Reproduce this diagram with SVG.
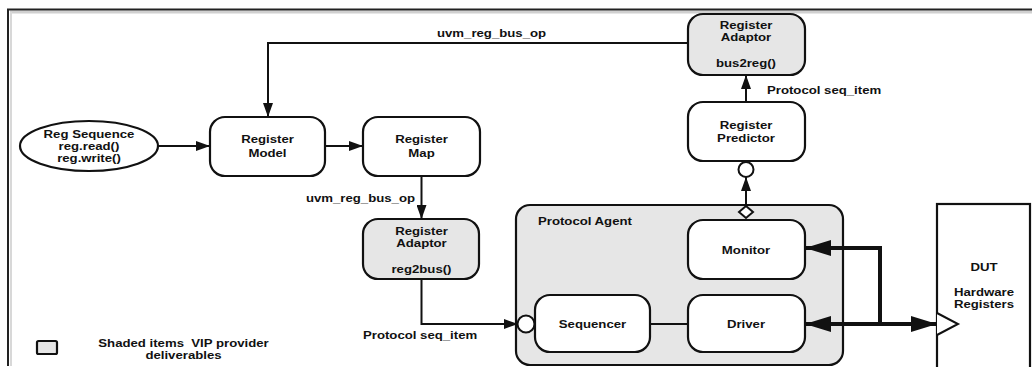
<svg xmlns="http://www.w3.org/2000/svg" width="1032" height="367" viewBox="0 0 1032 367">
<style>
.t{font-family:"Liberation Sans",Arial,Helvetica,sans-serif;font-weight:bold;font-size:11px;fill:#111}
.m{text-anchor:middle}
.e{text-anchor:end}
.box{fill:#fff;stroke:#111;stroke-width:2.2}
.shade{fill:#e6e6e6;stroke:#111;stroke-width:2.2}
.ln{fill:none;stroke:#111;stroke-width:2}
.bus{fill:none;stroke:#111;stroke-width:4}
</style>
<defs>
<marker id="ah" viewBox="0 0 14 10" refX="14" refY="5" markerWidth="14" markerHeight="10" markerUnits="userSpaceOnUse" orient="auto">
<path d="M0,0 L14,5 L0,10 Z" fill="#111"/>
</marker>
<marker id="ahb" viewBox="0 0 26 16" refX="26" refY="8" markerWidth="26" markerHeight="16" markerUnits="userSpaceOnUse" orient="auto">
<path d="M0,0 L26,8 L0,16 Z" fill="#111"/>
</marker>
</defs>
<rect width="1032" height="367" fill="#fff"/>
<g id="frame">
<path d="M10,12 H1032" stroke="#d0d0d0" stroke-width="3" fill="none"/>
<path d="M11,12 V366" stroke="#d8d8d8" stroke-width="2" fill="none"/>
<path d="M8,366 V9.5 H1032" stroke="#222" stroke-width="2" fill="none"/>
</g>
<g id="protocol-agent">
<rect class="shade" x="516" y="205" width="327" height="160" rx="14"/>
<text class="t" transform="translate(538,225) scale(1.2,1)">Protocol Agent</text>
</g>
<g id="connectors">
<path class="ln" d="M158,146 H210" marker-end="url(#ah)"/>
<path class="ln" d="M325,146 H363" marker-end="url(#ah)"/>
<path class="ln" d="M688,43 H268 V117" marker-end="url(#ah)"/>
<path class="ln" d="M421.5,176 V219" marker-end="url(#ah)"/>
<path class="ln" d="M421.5,279 V324 H518" marker-end="url(#ah)"/>
<path class="ln" d="M746,102 V75" marker-end="url(#ah)"/>
<path class="ln" d="M746,207 V177" marker-end="url(#ah)"/>
<path class="ln" d="M650,324 H688"/>
<path class="bus" d="M880,324 V248 H805" marker-end="url(#ahb)"/>
<path class="bus" d="M880,324 H805" marker-end="url(#ahb)"/>
<path class="bus" d="M878,324 H937" marker-end="url(#ahb)"/>
<circle cx="746" cy="169.5" r="7.5" fill="#fff" stroke="#111" stroke-width="2"/>
<path d="M746,206 L753,212 L746,218 L739,212 Z" fill="#fff" stroke="#111" stroke-width="2"/>
<circle cx="526" cy="324" r="8.5" fill="#fff" stroke="#111" stroke-width="2"/>
</g>
<g id="reg-sequence">
<ellipse class="box" cx="89" cy="146" rx="69" ry="25"/>
<text class="t m" transform="translate(89,137.5) scale(1.2,1)">Reg Sequence</text>
<text class="t m" transform="translate(89,150) scale(1.2,1)">reg.read()</text>
<text class="t m" transform="translate(89,162) scale(1.2,1)">reg.write()</text>
</g>
<g id="register-model">
<rect class="box" x="210" y="117" width="115" height="59" rx="15"/>
<text class="t m" transform="translate(267.5,143) scale(1.2,1)">Register</text>
<text class="t m" transform="translate(267.5,157) scale(1.2,1)">Model</text>
</g>
<g id="register-map">
<rect class="box" x="363" y="117" width="117" height="59" rx="15"/>
<text class="t m" transform="translate(421.5,143) scale(1.2,1)">Register</text>
<text class="t m" transform="translate(421.5,157) scale(1.2,1)">Map</text>
</g>
<g id="register-adaptor-top">
<rect class="shade" x="688" y="14" width="117" height="61" rx="15"/>
<text class="t m" transform="translate(746,29) scale(1.2,1)">Register</text>
<text class="t m" transform="translate(746,41) scale(1.2,1)">Adaptor</text>
<text class="t m" transform="translate(746,67) scale(1.2,1)">bus2reg()</text>
</g>
<g id="register-predictor">
<rect class="box" x="688" y="102" width="117" height="59" rx="15"/>
<text class="t m" transform="translate(746,129) scale(1.2,1)">Register</text>
<text class="t m" transform="translate(746,141.5) scale(1.2,1)">Predictor</text>
</g>
<g id="register-adaptor-bottom">
<rect class="shade" x="363" y="219" width="116" height="60" rx="15"/>
<text class="t m" transform="translate(421.5,235) scale(1.2,1)">Register</text>
<text class="t m" transform="translate(421.5,247) scale(1.2,1)">Adaptor</text>
<text class="t m" transform="translate(421.5,273) scale(1.2,1)">reg2bus()</text>
</g>
<g id="monitor">
<rect class="box" x="688" y="220" width="117" height="59" rx="15"/>
<text class="t m" transform="translate(746,254) scale(1.2,1)">Monitor</text>
</g>
<g id="sequencer">
<rect class="box" x="535" y="295" width="115" height="57" rx="15"/>
<text class="t m" transform="translate(592.5,328) scale(1.2,1)">Sequencer</text>
</g>
<g id="driver">
<rect class="box" x="688" y="295" width="117" height="57" rx="15"/>
<text class="t m" transform="translate(746,328) scale(1.2,1)">Driver</text>
</g>
<g id="dut">
<rect class="box" x="937" y="204" width="93" height="170"/>
<path d="M937,313 L958,324 L937,335" fill="#fff" stroke="#111" stroke-width="2"/>
<text class="t m" transform="translate(984,271) scale(1.2,1)">DUT</text>
<text class="t m" transform="translate(984,296) scale(1.2,1)">Hardware</text>
<text class="t m" transform="translate(984,308) scale(1.2,1)">Registers</text>
</g>
<g id="labels">
<text class="t" transform="translate(437,37) scale(1.2,1)">uvm_reg_bus_op</text>
<text class="t e" transform="translate(415,202) scale(1.2,1)">uvm_reg_bus_op</text>
<text class="t" transform="translate(767,93.5) scale(1.2,1)">Protocol seq_item</text>
<text class="t" transform="translate(363,339) scale(1.2,1)">Protocol seq_item</text>
</g>
<g id="legend">
<rect class="shade" x="37" y="341" width="20" height="13" rx="1.5"/>
<text class="t m" xml:space="preserve" transform="translate(183.5,347) scale(1.2,1)">Shaded items  VIP provider</text>
<text class="t m" transform="translate(183.5,359) scale(1.2,1)">deliverables</text>
</g>
</svg>
